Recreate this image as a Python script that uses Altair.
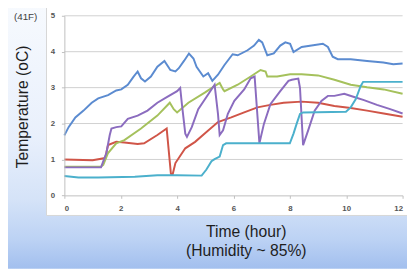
import altair as alt
import pandas as pd

# ---- data ----
blue_t = [0, 0.15, 0.39, 0.68, 0.97, 1.2, 1.55, 1.84, 2.02, 2.25, 2.45, 2.6, 2.72, 2.86, 3.07, 3.3, 3.55, 3.76, 3.94, 4.06, 4.25, 4.42, 4.58, 4.69, 4.93, 5.1, 5.25, 5.45, 5.68, 5.97, 6.15, 6.5, 6.73, 6.9, 7.02, 7.2, 7.43, 7.66, 7.84, 8.01, 8.13, 8.42, 8.77, 9.17, 9.35, 9.52, 9.7, 10.16, 10.74, 11.32, 11.67, 12]
blue_v = [1.67, 1.9, 2.17, 2.36, 2.58, 2.7, 2.79, 2.92, 2.95, 3.08, 3.3, 3.45, 3.26, 3.17, 3.31, 3.58, 3.74, 3.49, 3.45, 3.54, 3.75, 3.95, 3.81, 3.58, 3.31, 3.4, 3.19, 3.36, 3.63, 3.93, 3.9, 4.04, 4.17, 4.33, 4.26, 3.9, 3.95, 4.17, 4.26, 4.22, 3.99, 4.13, 4.17, 4.22, 4.13, 3.86, 3.79, 3.79, 3.74, 3.7, 3.65, 3.67]

red_t = [0, 1.0, 1.45, 1.55, 1.84, 2.13, 2.6, 2.83, 3.3, 3.63, 3.78, 3.84, 3.94, 4.29, 4.64, 4.98, 5.45, 5.92, 6.38, 6.85, 7.31, 7.78, 8.42, 9.0, 9.58, 10.16, 10.74, 11.33, 12]
red_v = [1.0, 0.98, 1.04, 1.4, 1.49, 1.47, 1.43, 1.45, 1.68, 1.86, 0.6, 0.58, 0.9, 1.31, 1.49, 1.72, 2.04, 2.17, 2.31, 2.45, 2.52, 2.58, 2.61, 2.58, 2.49, 2.43, 2.36, 2.28, 2.19]

green_t = [0, 1.3, 1.38, 1.55, 1.84, 2.13, 2.72, 3.3, 3.74, 3.88, 4.0, 4.4, 4.98, 5.33, 5.51, 5.63, 5.68, 6.15, 6.61, 6.96, 7.14, 7.2, 7.55, 8.01, 8.42, 9.0, 9.58, 10.16, 10.74, 11.33, 12]
green_v = [0.8, 0.8, 0.85, 1.18, 1.45, 1.54, 1.86, 2.22, 2.58, 2.4, 2.31, 2.58, 2.86, 3.04, 3.13, 2.95, 2.9, 3.08, 3.31, 3.49, 3.45, 3.31, 3.31, 3.37, 3.37, 3.34, 3.22, 3.08, 3.01, 2.95, 2.83]

purple_t = [0, 1.3, 1.49, 1.61, 1.67, 1.84, 2.02, 2.25, 2.6, 2.95, 3.3, 3.65, 4.0, 4.11, 4.17, 4.29, 4.35, 4.52, 4.75, 5.1, 5.33, 5.45, 5.51, 5.63, 5.8, 6.03, 6.38, 6.61, 6.75, 6.92, 7.08, 7.31, 7.66, 7.95, 8.07, 8.3, 8.36, 8.47, 8.65, 8.88, 9.12, 9.35, 9.58, 9.93, 10.28, 10.63, 11.09, 11.56, 12]
purple_v = [0.78, 0.78, 1.18, 1.68, 1.86, 1.9, 1.92, 2.13, 2.22, 2.36, 2.58, 2.74, 2.9, 2.99, 2.54, 1.72, 1.63, 1.9, 2.4, 2.81, 3.08, 2.27, 1.68, 1.81, 2.27, 2.63, 2.95, 3.26, 3.31, 1.45, 1.99, 2.54, 2.9, 3.19, 3.22, 3.25, 2.99, 1.4, 1.81, 2.36, 2.63, 2.77, 2.77, 2.83, 2.74, 2.65, 2.52, 2.4, 2.28]

cyan_t = [0, 0.5, 1.2, 2.5, 3.3, 4.0, 4.87, 5.04, 5.22, 5.33, 5.51, 5.63, 5.74, 7.49, 8.0, 8.13, 8.24, 8.36, 8.47, 9.99, 10.16, 10.34, 10.51, 10.6, 12]
cyan_v = [0.54, 0.5, 0.5, 0.52, 0.56, 0.56, 0.55, 0.72, 0.95, 1.01, 1.08, 1.4, 1.45, 1.45, 1.45, 1.72, 1.99, 2.27, 2.31, 2.33, 2.45, 2.68, 3.04, 3.16, 3.16]

series_names = ["blue", "red", "green", "purple", "cyan"]
series_colors = ["#5b8bd0", "#d05548", "#a5c15c", "#8b6cbf", "#4bb0cc"]
y_ticks = [0, 1, 2, 3, 4, 5]
x_ticks = [0, 2, 4, 6, 8, 10, 12]

rows = []
for name, ts, vs in zip(series_names,
                        [blue_t, red_t, green_t, purple_t, cyan_t],
                        [blue_v, red_v, green_v, purple_v, cyan_v]):
    for i, (t, v) in enumerate(zip(ts, vs)):
        rows.append({"series": name, "t": t, "v": v, "i": i})
df = pd.DataFrame(rows)
grid_df = pd.DataFrame({"v": y_ticks[1:]})
one = pd.DataFrame({"a": [0]})

W, H = 345, 183.2

x_scale = alt.Scale(domain=[0, 12], nice=False, zero=False)
y_scale = alt.Scale(domain=[0, 5], nice=False)

lab = dict(labelFont="Liberation Sans", labelFontWeight="bold", labelFontSize=8, labelColor="#555555",
           titleFont="Liberation Sans", titleFontWeight="normal", titleFontSize=16, titleColor="#1e1e1e",
           domainColor="#bfbfbf", tickColor="#bfbfbf", tickSize=3, grid=False, zindex=1)

y_axis = alt.Axis(values=y_ticks, title="Temperature (oC)",
                  titleX=-42.5, titleY=92.5, titleAngle=270,
                  titleBaseline="middle", titleAlign="center", labelPadding=7, **lab)
x_axis = alt.Axis(values=x_ticks, title=["Time (hour)", "(Humidity ~ 85%)"],
                  titleX=185, titleY=29, titleBaseline="top", titleAlign="center",
                  titleLineHeight=19, labelPadding=6, **lab)

bg = alt.Chart(one).mark_rect(
    color=alt.LinearGradient(
        gradient="linear",
        stops=[
            alt.GradientStop(color="#f7fafe", offset=0),
            alt.GradientStop(color="#e9f0fc", offset=0.5),
            alt.GradientStop(color="#d5e3f8", offset=0.74),
            alt.GradientStop(color="#bcd2f4", offset=0.89),
            alt.GradientStop(color="#a2bfee", offset=1),
        ],
        x1=0, x2=0, y1=0, y2=1,
    )
).encode(x=alt.value(-60), x2=alt.value(360), y=alt.value(-13.3), y2=alt.value(258))

box = alt.Chart(one).mark_rect(fill="white", stroke="#d6d6d6", strokeWidth=1).encode(
    x=alt.value(-18.2), x2=alt.value(360), y=alt.value(-10), y2=alt.value(203.7)
)

grid = alt.Chart(grid_df).mark_rule(color="#d0d0d0", strokeWidth=1).encode(
    y=alt.Y("v:Q", scale=y_scale, axis=y_axis)
)

lines = alt.Chart(df).mark_line(strokeWidth=2).encode(
    x=alt.X("t:Q", scale=x_scale, axis=x_axis),
    y=alt.Y("v:Q", scale=y_scale, axis=y_axis),
    color=alt.Color("series:N", scale=alt.Scale(domain=series_names, range=series_colors), legend=None),
    order="i:Q",
)

note = alt.Chart(one).mark_text(
    text="(41F)", font="Liberation Sans", fontSize=10, color="#404040", align="center", baseline="middle"
).encode(x=alt.value(-39.5), y=alt.value(1.7))

chart = alt.layer(bg, box, grid, lines, note).properties(
    width=W, height=H,
    autosize=alt.AutoSizeParams(type="none"),
    padding={"left": 57.5, "top": 5.3, "right": 4.5, "bottom": 74.5},
).configure_view(stroke=None)

chart.save("out.html", embed_options={"renderer": "svg", "actions": False})
